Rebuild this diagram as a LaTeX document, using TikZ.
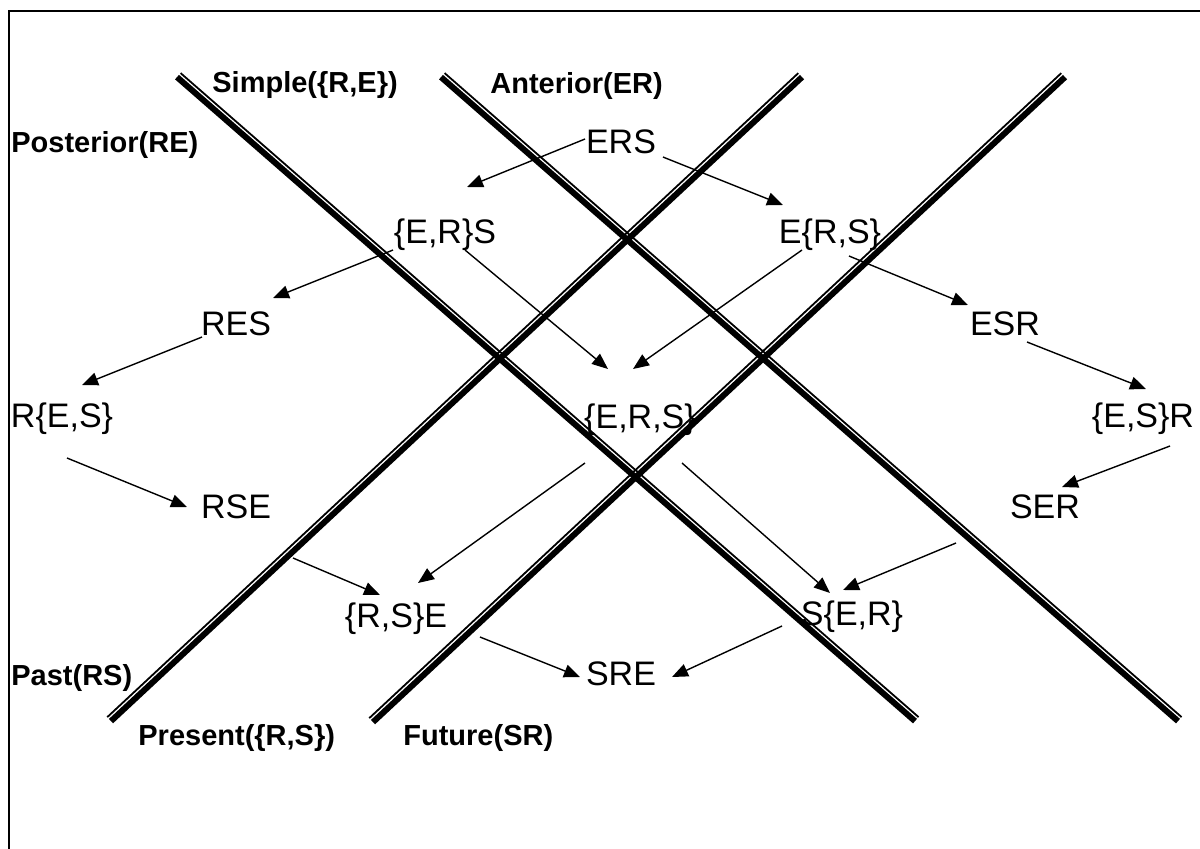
\documentclass[tikz,border=0pt]{standalone}
\usepackage{fontspec}
\setmainfont{Liberation Sans}
\usetikzlibrary{arrows.meta}

\tikzset{
  tense/.style={font=\fontsize{17}{20}\selectfont, inner sep=0pt, anchor=base},
  axislabel/.style={font=\fontsize{14.5}{17}\selectfont\bfseries, inner sep=0pt, anchor=base west},
  arr/.style={-{Triangle[length=8pt,width=6.5pt]}, line width=0.7pt},
  thickrail/.style={line width=3pt},
  thinrail/.style={line width=0.9pt},
}

\begin{document}
\begin{tikzpicture}[x=0.5pt, y=-0.5pt]
\useasboundingbox (0,0) rectangle (1200,848);
\draw[line width=1pt] (9,870) -- (9,11) -- (1220,11);

% the four axes (double rails)
\coordinate (S1) at (178,76);  \coordinate (S2) at (916,720);
\coordinate (A1) at (442,76);  \coordinate (A2) at (1179,720);
\coordinate (P1) at (110,720); \coordinate (P2) at (801,76);
\coordinate (F1) at (372,721); \coordinate (F2) at (1064,76);
\foreach \a/\b in {S1/S2, A1/A2} {
  \draw[thickrail] ([shift={(-1,1.1)}]\a) -- ([shift={(-1,1.1)}]\b);
  \draw[thinrail] ([shift={(2.6,-2.9)}]\a) -- ([shift={(2.6,-2.9)}]\b);
}
\foreach \a/\b in {P1/P2, F1/F2} {
  \draw[thickrail] ([shift={(1,1.1)}]\a) -- ([shift={(1,1.1)}]\b);
  \draw[thinrail] ([shift={(-2.7,-2.9)}]\a) -- ([shift={(-2.7,-2.9)}]\b);
}

% axis labels
\node[axislabel] (simple) at (212,92) {Simple(\{R,E\})};
\node[axislabel] (anterior) at (490,93) {Anterior(ER)};
\node[axislabel] (posterior) at (11,152) {Posterior(RE)};
\node[axislabel] (past) at (11,685) {Past(RS)};
\node[axislabel] (present) at (138,745) {Present(\{R,S\})};
\node[axislabel] (future) at (403,745) {Future(SR)};

% the thirteen orderings
\node[tense] (ERS) at (621,153) {ERS};
\node[tense] (ERxS) at (445,243) {\{E,R\}S};
\node[tense] (ExRS) at (830,243) {E\{R,S\}};
\node[tense] (RES) at (236,335) {RES};
\node[tense] (ESR) at (1005,335) {ESR};
\node[tense] (RxES) at (62,427) {R\{E,S\}};
\node[tense] (ERSx) at (640,428) {\{E,R,S\}};
\node[tense] (ESxR) at (1143,427) {\{E,S\}R};
\node[tense] (RSE) at (236,518) {RSE};
\node[tense] (SER) at (1045,518) {SER};
\node[tense] (RSxE) at (396,627) {\{R,S\}E};
\node[tense] (SxER) at (852,625) {S\{E,R\}};
\node[tense] (SRE) at (621,685) {SRE};

% transitions
\draw[arr] ([shift={(-36,-14)}]ERS.base) -- ([shift={(22,-56)}]ERxS.base);
\draw[arr] ([shift={(42,4)}]ERS.base) -- ([shift={(-47,-38)}]ExRS.base);
\draw[arr] ([shift={(-52,7)}]ERxS.base) -- ([shift={(37,-37)}]RES.base);
\draw[arr] ([shift={(-34,2)}]RES.base) -- ([shift={(20,-42)}]RxES.base);
\draw[arr] ([shift={(5,31)}]RxES.base) -- ([shift={(-49,-11)}]RSE.base);
\draw[arr] ([shift={(20,7)}]ERxS.base) -- ([shift={(-32,-59)}]ERSx.base);
\draw[arr] ([shift={(-28,7)}]ExRS.base) -- ([shift={(-7,-59)}]ERSx.base);
\draw[arr] ([shift={(19,13)}]ExRS.base) -- ([shift={(-37,-30)}]ESR.base);
\draw[arr] ([shift={(22,7)}]ESR.base) -- ([shift={(3,-38)}]ESxR.base);
\draw[arr] ([shift={(27,19)}]ESxR.base) -- ([shift={(17,-31)}]SER.base);
\draw[arr] ([shift={(-55,35)}]ERSx.base) -- ([shift={(22,-44)}]RSxE.base);
\draw[arr] ([shift={(42,35)}]ERSx.base) -- ([shift={(-22,-32)}]SxER.base);
\draw[arr] ([shift={(57,40)}]RSE.base) -- ([shift={(-16,-32)}]RSxE.base);
\draw[arr] ([shift={(-89,25)}]SER.base) -- ([shift={(-9,-35)}]SxER.base);
\draw[arr] ([shift={(84,10)}]RSxE.base) -- ([shift={(-41,-8)}]SRE.base);
\draw[arr] ([shift={(-70,1)}]SxER.base) -- ([shift={(51,-8)}]SRE.base);
\end{tikzpicture}
\end{document}
